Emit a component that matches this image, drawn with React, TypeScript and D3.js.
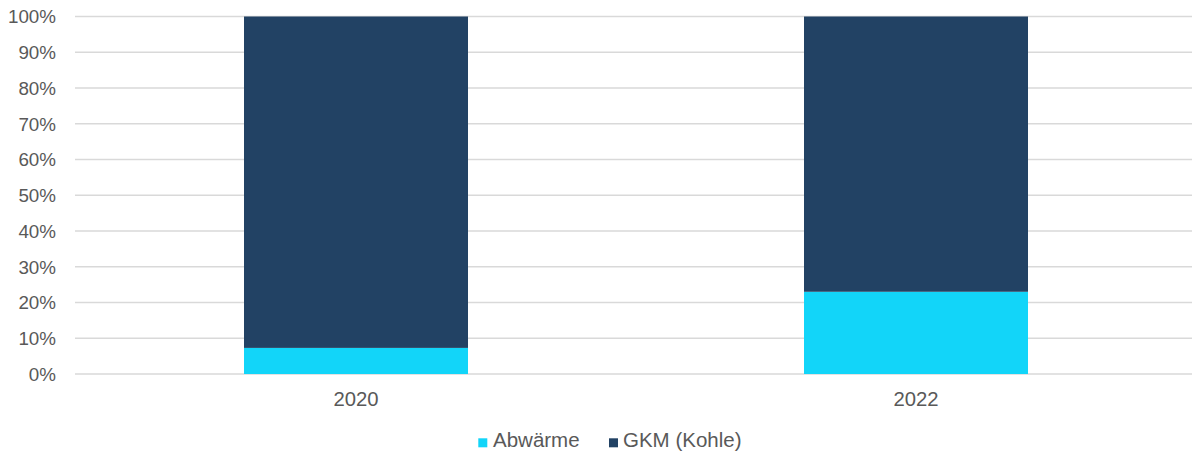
import React from "react";
import * as d3 from "d3";

const categories = ["2020", "2022"];
const abwaerme = [7.3, 23.0];
const gkm = [92.7, 77.0];
const yTicks = [0, 10, 20, 30, 40, 50, 60, 70, 80, 90, 100];
const seriesNames = ["Abwärme", "GKM (Kohle)"];
const colors = ["#12D5F9", "#224264"];

const W = 1192;
const H = 454;
const FONT = "'Liberation Sans', Arial, sans-serif";

export default function App() {
  const x = d3.scaleBand<string>().domain(categories).range([76, 1196]).paddingInner(0.6).paddingOuter(0.3);
  const y = d3.scaleLinear().domain([0, 100]).range([374, 16.5]);
  const stackData = categories.map((c, i) => ({ cat: c, a: abwaerme[i], g: gkm[i] }));
  const stack = d3.stack<any>().keys(["a", "g"])(stackData);

  return (
    <svg width={W} height={H} style={{ position: "absolute", left: 0, top: 0 }} fontFamily={FONT}>
      <rect width={W} height={H} fill="#fff" />
      {yTicks.map((t) => (
        <g key={t}>
          <line x1={75} x2={1192} y1={y(t)} y2={y(t)} stroke="#D9D9D9" strokeWidth={1.5} />
          <text x={56} y={y(t)} dy="0.36em" textAnchor="end" fontSize={18.8} fill="#595959">
            {t}%
          </text>
        </g>
      ))}
      {stack.map((layer, li) => (
        <g key={li} fill={colors[li]}>
          {layer.map((d, i) => (
            <rect
              key={i}
              x={x(categories[i])}
              width={x.bandwidth()}
              y={y(d[1])}
              height={y(d[0]) - y(d[1])}
            />
          ))}
        </g>
      ))}
      {categories.map((c) => (
        <text key={c} x={(x(c) as number) + x.bandwidth() / 2} y={405.5} textAnchor="middle" fontSize={20.3} fill="#595959">
          {c}
        </text>
      ))}
      <g>
        <rect x={478.3} y={438.3} width={9} height={9} fill={colors[0]} />
        <text x={493} y={446.7} fontSize={20.5} fill="#595959">{seriesNames[0]}</text>
        <rect x={609} y={438.3} width={9} height={9} fill={colors[1]} />
        <text x={623} y={446.7} fontSize={20.5} fill="#595959">{seriesNames[1]}</text>
      </g>
    </svg>
  );
}
